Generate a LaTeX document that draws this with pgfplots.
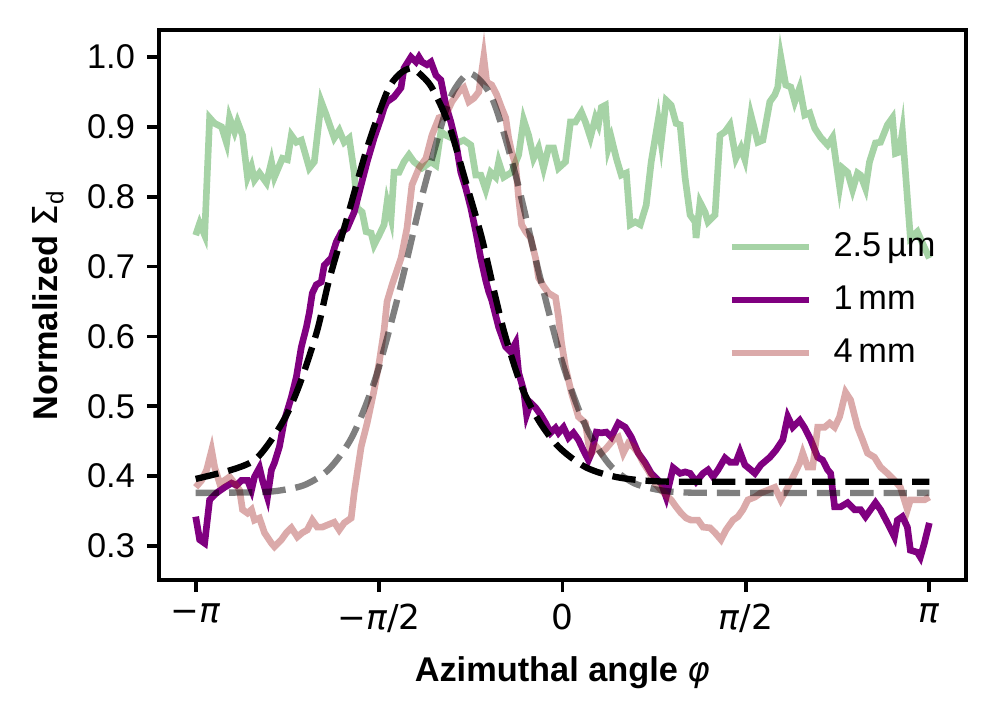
\documentclass[border=0pt]{standalone}
\usepackage{fontspec}
\setmainfont{Liberation Sans}
\newfontfamily\djv{DejaVu Sans}
\usepackage{pgfplots}
\pgfplotsset{compat=1.18}
\definecolor{cgreen}{RGB}{0,128,0}
\definecolor{cpurple}{RGB}{128,0,128}
\definecolor{cbrown}{RGB}{165,42,42}
\begin{document}
\fontsize{10.3}{12.4}\selectfont
\begin{tikzpicture}
\begin{axis}[
  scale only axis, width=242.1pt, height=165pt,
  xmin=-3.4558, xmax=3.4558, ymin=0.2513, ymax=1.0387,
  axis line style={line width=1.3pt},
  tick align=outside, tick pos=left,
  major tick length=3.6pt,
  every tick/.style={black, line width=1.1pt},
  xtick={-3.14159,-1.5708,0,1.5708,3.14159},
  xticklabels={{\djv−\textit{π}},{\djv−\textit{π}/2},{\djv 0},{\djv\textit{π}/2},{\djv\textit{π}}},
  ytick={0.3,0.4,0.5,0.6,0.7,0.8,0.9,1.0},
  yticklabel style={/pgf/number format/.cd, fixed, fixed zerofill, precision=1, assume math mode=true},
  tick label style={font=\fontsize{10.3}{12.4}\selectfont},
  xlabel={\textbf{Azimuthal angle} {\djv\textit{φ}}},
  ylabel={\textbf{Normalized} {\djv Σ}\textsubscript{d}},
  label style={font=\fontsize{10.3}{12.4}\selectfont},
  legend cell align=left,
  legend image code/.code={\draw[#1] (0pt,0pt) -- (23pt,0pt);},
  legend style={draw=none, fill=none, at={(0.705,0.642)}, anchor=north west,
    inner sep=0pt, row sep=4.2pt, nodes={inner sep=1.5pt}, column sep=5pt},
]
% 2.5 um
\addplot[cgreen, opacity=0.35, line width=2pt] coordinates {
(-3.1416,0.745)(-3.1075,0.762)(-3.0648,0.745)(-3.0221,0.913)(-2.9794,0.905)(-2.9197,0.900)(-2.8770,0.877)(-2.8514,0.913)(-2.8087,0.893)(-2.7831,0.907)(-2.7404,0.888)(-2.6977,0.828)(-2.6635,0.843)(-2.6379,0.824)(-2.5952,0.834)(-2.5355,0.820)(-2.4928,0.850)(-2.4672,0.828)(-2.3989,0.855)(-2.3562,0.853)(-2.3221,0.888)(-2.2794,0.878)(-2.2367,0.881)(-2.1684,0.841)(-2.1257,0.850)(-2.0660,0.936)(-2.0233,0.917)(-1.9550,0.884)(-1.9123,0.895)(-1.8696,0.878)(-1.8269,0.884)(-1.7842,0.835)(-1.7586,0.784)(-1.7159,0.778)(-1.6818,0.750)(-1.6391,0.748)(-1.6135,0.731)(-1.5708,0.745)(-1.5281,0.760)(-1.5025,0.792)(-1.4684,0.769)(-1.4428,0.835)(-1.4001,0.835)(-1.3574,0.850)(-1.3147,0.860)(-1.2720,0.850)(-1.2037,0.841)(-1.1269,0.850)(-1.0842,0.845)(-1.0415,0.893)(-0.9988,0.888)(-0.9476,0.884)(-0.8878,0.878)(-0.8452,0.881)(-0.7854,0.874)(-0.7427,0.831)(-0.7000,0.831)(-0.6573,0.810)(-0.6147,0.835)(-0.5720,0.828)(-0.5464,0.850)(-0.5037,0.828)(-0.4354,0.835)(-0.3756,0.860)(-0.3329,0.910)(-0.2903,0.888)(-0.2476,0.855)(-0.2049,0.870)(-0.1622,0.841)(-0.1195,0.870)(-0.0768,0.870)(-0.0341,0.841)(0.0256,0.850)(0.0683,0.907)(0.1110,0.907)(0.1622,0.921)(0.1964,0.907)(0.2390,0.885)(0.2817,0.913)(0.3073,0.903)(0.3329,0.928)(0.3671,0.931)(0.3927,0.870)(0.4183,0.884)(0.4610,0.855)(0.5037,0.831)(0.5464,0.834)(0.5805,0.760)(0.6232,0.764)(0.6659,0.760)(0.7171,0.788)(0.7598,0.850)(0.8195,0.910)(0.8452,0.878)(0.8878,0.938)(0.9305,0.931)(0.9732,0.905)(1.0074,0.903)(1.0500,0.827)(1.0927,0.774)(1.1354,0.764)(1.1440,0.741)(1.1781,0.792)(1.2208,0.778)(1.2464,0.764)(1.3062,0.774)(1.3488,0.888)(1.3915,0.893)(1.4342,0.903)(1.4854,0.855)(1.5281,0.870)(1.5623,0.853)(1.6135,0.917)(1.6732,0.878)(1.7159,0.881)(1.7757,0.936)(1.8184,0.946)(1.8440,0.957)(1.8696,1.000)(1.9123,0.960)(1.9550,0.957)(1.9891,0.936)(2.0318,0.956)(2.0745,0.917)(2.1172,0.920)(2.1599,0.898)(2.2111,0.885)(2.2708,0.874)(2.3135,0.885)(2.3733,0.814)(2.3989,0.841)(2.4416,0.835)(2.4843,0.810)(2.5270,0.834)(2.5526,0.831)(2.5952,0.812)(2.6294,0.850)(2.6806,0.877)(2.7233,0.878)(2.7831,0.903)(2.8258,0.913)(2.8514,0.862)(2.8855,0.864)(2.9111,0.893)(2.9794,0.741)(3.0392,0.750)(3.0818,0.734)(3.1416,0.712)
};
\addlegendentry{2.5\,µm}
% 1 mm
\addplot[cpurple, line width=2pt] coordinates {
(-3.1416,0.342)(-3.1075,0.309)(-3.0648,0.304)(-3.0221,0.366)(-2.9623,0.376)(-2.8940,0.384)(-2.8343,0.390)(-2.7916,0.387)(-2.7489,0.394)(-2.6977,0.394)(-2.6635,0.380)(-2.6379,0.399)(-2.5952,0.412)(-2.5696,0.394)(-2.5269,0.370)(-2.4928,0.409)(-2.4672,0.419)(-2.4245,0.442)(-2.3818,0.480)(-2.3221,0.513)(-2.2794,0.542)(-2.2367,0.585)(-2.1940,0.613)(-2.1684,0.634)(-2.1428,0.662)(-2.1086,0.674)(-2.0660,0.678)(-2.0403,0.702)(-1.9806,0.712)(-1.9379,0.735)(-1.8952,0.749)(-1.8440,0.755)(-1.7842,0.778)(-1.7245,0.817)(-1.6732,0.850)(-1.6135,0.884)(-1.5537,0.913)(-1.5281,0.927)(-1.5025,0.936)(-1.4428,0.943)(-1.3830,0.956)(-1.3574,0.984)(-1.2976,1.000)(-1.2549,0.993)(-1.2293,1.000)(-1.2037,0.993)(-1.1610,0.989)(-1.1269,0.993)(-1.0842,0.974)(-1.0415,0.967)(-0.9988,0.931)(-0.9561,0.907)(-0.9134,0.878)(-0.8708,0.835)(-0.8281,0.812)(-0.7854,0.784)(-0.7427,0.750)(-0.7000,0.712)(-0.6573,0.680)(-0.6317,0.664)(-0.6061,0.652)(-0.5464,0.613)(-0.4866,0.585)(-0.4439,0.578)(-0.4012,0.591)(-0.3756,0.548)(-0.3329,0.523)(-0.3073,0.488)(-0.2732,0.505)(-0.2305,0.498)(-0.1878,0.488)(-0.1451,0.476)(-0.1024,0.462)(-0.0598,0.469)(-0.0341,0.462)(0.0085,0.470)(0.0512,0.455)(0.0939,0.462)(0.1366,0.452)(0.1793,0.437)(0.2220,0.423)(0.2476,0.433)(0.2903,0.463)(0.3329,0.462)(0.3756,0.463)(0.4183,0.456)(0.4781,0.476)(0.5378,0.470)(0.5890,0.456)(0.6488,0.433)(0.7086,0.419)(0.7598,0.404)(0.8195,0.394)(0.8452,0.390)(0.8878,0.370)(0.9476,0.412)(1.0074,0.404)(1.0500,0.406)(1.0927,0.404)(1.1440,0.392)(1.2037,0.404)(1.2464,0.409)(1.2891,0.399)(1.3318,0.409)(1.3915,0.426)(1.4342,0.420)(1.4854,0.420)(1.5196,0.435)(1.5623,0.416)(1.6135,0.409)(1.6476,0.404)(1.6988,0.416)(1.7757,0.427)(1.8269,0.437)(1.8867,0.452)(1.9293,0.485)(1.9720,0.470)(2.0318,0.480)(2.0745,0.469)(2.1257,0.452)(2.1854,0.427)(2.2281,0.423)(2.2708,0.409)(2.2964,0.404)(2.3306,0.356)(2.3818,0.356)(2.4416,0.362)(2.5013,0.352)(2.5526,0.352)(2.5952,0.342)(2.6379,0.352)(2.6806,0.362)(2.7233,0.352)(2.7831,0.333)(2.8428,0.313)(2.8684,0.337)(2.9111,0.342)(2.9538,0.327)(2.9794,0.294)(3.0392,0.291)(3.0648,0.284)(3.0989,0.304)(3.1416,0.333)
};
\addlegendentry{1\,mm}
% 4 mm
\addplot[cbrown, opacity=0.4, line width=2pt] coordinates {
(-3.1416,0.384)(-3.0904,0.394)(-3.0477,0.409)(-3.0050,0.437)(-2.9794,0.413)(-2.9367,0.390)(-2.8940,0.394)(-2.8514,0.399)(-2.8087,0.390)(-2.7660,0.380)(-2.7404,0.352)(-2.6977,0.347)(-2.6635,0.352)(-2.6379,0.337)(-2.5952,0.340)(-2.5526,0.319)(-2.4928,0.304)(-2.4672,0.299)(-2.4074,0.309)(-2.3647,0.319)(-2.3221,0.326)(-2.2708,0.313)(-2.2281,0.319)(-2.1854,0.323)(-2.1428,0.337)(-2.1001,0.327)(-2.0574,0.327)(-2.0147,0.330)(-1.9550,0.334)(-1.9123,0.323)(-1.8696,0.333)(-1.8098,0.340)(-1.7842,0.376)(-1.7245,0.442)(-1.6732,0.476)(-1.6135,0.523)(-1.5708,0.562)(-1.5281,0.609)(-1.5025,0.650)(-1.4598,0.674)(-1.3830,0.712)(-1.3318,0.755)(-1.2891,0.817)(-1.2293,0.841)(-1.1696,0.855)(-1.1183,0.888)(-1.0586,0.913)(-0.9988,0.917)(-0.9476,0.936)(-0.8878,0.950)(-0.8452,0.956)(-0.8025,0.936)(-0.7598,0.941)(-0.7171,0.950)(-0.6744,1.000)(-0.6488,0.964)(-0.6061,0.960)(-0.5634,0.946)(-0.5208,0.927)(-0.4866,0.913)(-0.4610,0.884)(-0.4354,0.864)(-0.4012,0.845)(-0.3756,0.798)(-0.3500,0.760)(-0.3159,0.750)(-0.2732,0.741)(-0.2305,0.712)(-0.2049,0.684)(-0.1622,0.672)(-0.1195,0.662)(-0.0598,0.656)(-0.0341,0.628)(-0.0085,0.591)(0.0256,0.556)(0.0768,0.519)(0.1366,0.485)(0.1964,0.476)(0.2220,0.447)(0.2476,0.433)(0.2903,0.442)(0.3329,0.433)(0.3756,0.440)(0.4354,0.452)(0.4781,0.456)(0.5208,0.433)(0.5634,0.447)(0.6061,0.442)(0.6488,0.433)(0.6915,0.419)(0.7342,0.408)(0.7939,0.389)(0.8452,0.380)(0.8878,0.373)(0.9305,0.366)(0.9732,0.356)(1.0159,0.347)(1.0586,0.340)(1.1013,0.337)(1.1610,0.337)(1.2037,0.327)(1.2635,0.326)(1.3062,0.319)(1.3574,0.309)(1.4001,0.323)(1.4598,0.337)(1.5025,0.342)(1.5452,0.352)(1.5879,0.366)(1.6476,0.370)(1.6988,0.376)(1.7586,0.380)(1.8184,0.384)(1.8696,0.366)(1.9293,0.384)(1.9891,0.404)(2.0318,0.419)(2.0574,0.433)(2.1001,0.413)(2.1428,0.413)(2.1854,0.470)(2.2452,0.470)(2.2879,0.476)(2.3306,0.470)(2.3733,0.485)(2.4245,0.520)(2.4672,0.509)(2.5270,0.470)(2.5696,0.452)(2.6123,0.433)(2.6721,0.427)(2.7233,0.413)(2.7831,0.404)(2.8428,0.394)(2.8940,0.384)(2.9538,0.352)(2.9794,0.366)(3.0392,0.366)(3.0989,0.366)(3.1416,0.370)
};
\addlegendentry{4\,mm}
% fits
\addplot[black, line width=1.9pt, dash pattern=on 7pt off 3pt, smooth, tension=0.5, forget plot] coordinates {
(-3.1416,0.396)(-2.834,0.409)(-2.638,0.423)(-2.493,0.452)(-2.356,0.490)(-2.237,0.538)(-2.100,0.609)(-2.000,0.680)(-1.844,0.770)(-1.673,0.870)(-1.503,0.950)(-1.400,0.975)(-1.300,0.984)(-1.229,0.977)(-1.118,0.956)(-0.973,0.903)(-0.828,0.821)(-0.691,0.741)(-0.572,0.655)(-0.487,0.599)(-0.350,0.528)(-0.205,0.480)(-0.034,0.442)(0.196,0.413)(0.452,0.399)(0.760,0.393)(1.200,0.392)(3.1416,0.392)
};
\addplot[black, opacity=0.5, line width=1.9pt, dash pattern=on 7pt off 3pt, smooth, tension=0.5, forget plot] coordinates {
(-3.1416,0.376)(-2.6,0.377)(-2.4,0.380)(-2.2,0.388)(-2.0,0.410)(-1.8,0.457)(-1.6,0.541)(-1.4,0.663)(-1.2,0.803)(-1.0,0.923)(-0.9,0.960)(-0.78,0.976)(-0.6,0.940)(-0.4,0.830)(-0.2,0.690)(0.0,0.562)(0.2,0.471)(0.4,0.417)(0.6,0.391)(0.8,0.381)(1.0,0.377)(1.4,0.376)(3.1416,0.376)
};
\end{axis}
\path (current axis.south west) ++(-47.7pt,-43.5pt) rectangle ++(299.4pt,217.5pt);
\end{tikzpicture}
\end{document}
